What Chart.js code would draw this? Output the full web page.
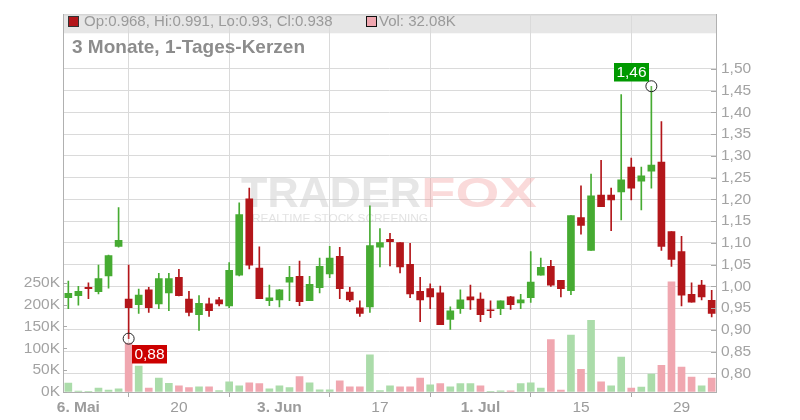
<!DOCTYPE html>
<html><head><meta charset="utf-8">
<script src="https://cdn.jsdelivr.net/npm/chart.js@4.4.1/dist/chart.umd.min.js"></script>
<style>html,body{margin:0;padding:0;background:#fff;}#wrap{width:800px;height:420px;position:relative;}</style>
</head><body><div id="wrap"><canvas id="c" width="800" height="420"></canvas></div>
<script>
const dates = [
 '2024-05-03','2024-05-06','2024-05-07','2024-05-08','2024-05-09','2024-05-10','2024-05-13','2024-05-14','2024-05-15','2024-05-16','2024-05-17',
 '2024-05-20','2024-05-21','2024-05-22','2024-05-23','2024-05-24','2024-05-27','2024-05-28','2024-05-29','2024-05-30','2024-05-31',
 '2024-06-03','2024-06-04','2024-06-05','2024-06-06','2024-06-07','2024-06-10','2024-06-11','2024-06-12','2024-06-13','2024-06-14',
 '2024-06-17','2024-06-18','2024-06-19','2024-06-20','2024-06-21','2024-06-24','2024-06-25','2024-06-26','2024-06-27','2024-06-28',
 '2024-07-01','2024-07-02','2024-07-03','2024-07-04','2024-07-05','2024-07-08','2024-07-09','2024-07-10','2024-07-11','2024-07-12',
 '2024-07-15','2024-07-16','2024-07-17','2024-07-18','2024-07-19','2024-07-22','2024-07-23','2024-07-24','2024-07-25','2024-07-26',
 '2024-07-29','2024-07-30','2024-07-31','2024-08-01'];
const open  = [0.974,0.979,0.998,0.988,1.024,1.092,0.971,0.958,0.992,0.960,0.985,
 1.021,0.971,0.935,0.960,0.969,0.955,1.026,1.201,1.042,0.967,
 0.969,1.010,1.023,0.967,0.997,1.029,1.069,0.987,0.951,0.953,
 1.090,1.108,1.101,1.051,0.989,0.995,0.985,0.924,0.949,0.976,
 0.971,0.946,0.949,0.976,0.962,0.974,1.026,1.046,1.014,0.990,
 1.158,1.083,1.210,1.210,1.217,1.274,1.242,1.265,1.286,1.126,
 1.080,0.982,1.003,0.968];
const high  = [1.012,1.000,1.008,1.049,1.072,1.181,1.049,0.994,0.998,1.030,1.030,
 1.039,0.989,0.979,0.973,0.975,1.055,1.192,1.226,1.091,1.003,
 0.993,1.046,1.058,1.023,1.065,1.092,1.090,0.998,0.967,1.185,
 1.133,1.122,1.101,1.099,1.021,1.006,1.001,0.953,0.992,1.003,
 0.985,0.967,0.967,0.977,0.982,1.080,1.065,1.060,1.014,1.163,
 1.231,1.258,1.290,1.226,1.441,1.295,1.274,1.460,1.379,1.126,
 1.115,1.008,1.014,0.991];
const low   = [0.949,0.957,0.972,0.983,0.996,1.090,0.880,0.938,0.940,0.949,0.944,
 0.978,0.932,0.899,0.931,0.955,0.951,1.024,1.040,0.972,0.956,
 0.953,0.967,0.956,0.967,0.985,1.020,0.972,0.965,0.931,0.940,
 1.045,1.047,1.031,0.974,0.919,0.949,0.912,0.901,0.938,0.947,
 0.919,0.928,0.935,0.947,0.949,0.963,1.026,1.000,0.976,0.981,
 1.120,1.083,1.183,1.128,1.153,1.199,1.176,1.226,1.083,1.046,
 0.955,0.964,0.969,0.930];
const close = [0.984,0.989,0.995,1.018,1.071,1.106,0.951,0.980,0.951,1.018,1.018,
 0.979,0.940,0.961,0.944,0.960,1.037,1.165,1.049,0.972,0.974,
 0.992,1.021,0.965,1.005,1.046,1.065,0.995,0.969,0.938,1.094,
 1.101,1.103,1.045,0.983,0.969,0.976,0.912,0.944,0.969,0.969,
 0.935,0.944,0.967,0.958,0.969,1.010,1.044,1.003,0.995,1.163,
 1.140,1.208,1.183,1.199,1.245,1.226,1.254,1.279,1.092,1.062,
 0.980,0.964,0.976,0.938];
const volume = [20500,2000,500,9000,4500,7000,112000,59000,9000,32000,20000,
 14000,10000,12000,12000,3000,23000,14000,21000,19000,7500,
 14000,10000,35000,21000,5000,5000,25700,12000,12000,85000,
 3000,14000,12000,12000,32000,16500,19000,12000,19000,19000,
 14000,500,2500,2500,19000,21000,9000,120000,4500,130000,
 52000,164000,23000,14000,80000,9000,11000,41000,61000,252000,
 57000,34000,14000,32080];
const priceTicks  = [0.80,0.85,0.90,0.95,1.00,1.05,1.10,1.15,1.20,1.25,1.30,1.35,1.40,1.45,1.50];
const volumeTicks = [0,50000,100000,150000,200000,250000];
const tickDates  = ['2024-05-06','2024-05-20','2024-06-03','2024-06-17','2024-07-01','2024-07-15','2024-07-29'];
const tickLabels = ['6. Mai','20','3. Jun','17','1. Jul','15','29'];
const boldTicks  = ['6. Mai','3. Jun','1. Jul'];
const markerDates  = ['2024-05-13','2024-07-24'];
const markerFields = ['low','high'];
const markerTexts  = ['0,88','1,46'];
const titleText = '3 Monate, 1-Tages-Kerzen';

const FONT = "'Liberation Sans', Arial, sans-serif";
const UP = '#46ab32', DOWN = '#b3161a', VUP = '#abdcaa', VDOWN = '#f0a7b0';
const series = {open, high, low, close};
const idx = dates.map((d,i)=>i);
const bodyColors = idx.map(i => close[i] >= open[i] ? UP : DOWN);
const volColors = idx.map(i => (i === 0 || close[i] >= close[i-1]) ? VUP : VDOWN);
const tickIdx = tickDates.map(d => dates.indexOf(d));
const markerPts = markerDates.map((d,k) => { const i = dates.indexOf(d); return {x:i, y:series[markerFields[k]][i]}; });

const last = dates.length - 1;
const headerText = 'Op:' + open[last] + ', Hi:' + high[last] + ', Lo:' + low[last] + ', Cl:' + close[last];
const volText = 'Vol: ' + (volume[last]/1000).toFixed(2) + 'K';

const decor = {
  id:'decor',
  beforeDraw(chart){
    const {ctx, chartArea:a} = chart;
    ctx.save();
    ctx.fillStyle = '#e6e6e6';
    ctx.fillRect(a.left, a.top, a.right - a.left, 19);
    ctx.strokeStyle = '#cccccc'; ctx.lineWidth = 1;
    ctx.beginPath(); ctx.moveTo(a.left, a.top + 0.5); ctx.lineTo(a.right, a.top + 0.5); ctx.stroke();
    ctx.restore();
  },
  beforeDatasetsDraw(chart){
    const {ctx, chartArea:a} = chart;
    ctx.save();
    // watermark
    ctx.font = 'bold 43px ' + FONT;
    ctx.textBaseline = 'alphabetic';
    ctx.fillStyle = 'rgba(200,200,200,0.45)';
    const w1 = ctx.measureText('TRADER').width;
    ctx.save(); ctx.translate(241, 207); ctx.scale(180 / w1, 1); ctx.fillText('TRADER', 0, 0); ctx.restore();
    ctx.fillStyle = 'rgba(240,150,150,0.35)';
    const w2 = ctx.measureText('FOX').width;
    ctx.save(); ctx.translate(421, 207); ctx.scale(116 / w2, 1); ctx.fillText('FOX', 0, 0); ctx.restore();
    ctx.font = '10px ' + FONT;
    ctx.fillStyle = 'rgba(200,200,200,0.5)';
    const w3 = ctx.measureText('REALTIME STOCK SCREENING').width;
    ctx.save(); ctx.translate(252, 222); ctx.scale(176 / w3, 1); ctx.fillText('REALTIME STOCK SCREENING', 0, 0); ctx.restore();
    // header
    ctx.textBaseline = 'middle';
    ctx.font = '15px ' + FONT;
    ctx.fillStyle = '#9a9a9a';
    ctx.fillText(headerText, 84, 21.5);
    ctx.fillText(volText, 379, 21.5);
    ctx.fillStyle = DOWN; ctx.fillRect(68.5, 16.5, 10, 10);
    ctx.strokeStyle = '#333'; ctx.lineWidth = 1; ctx.strokeRect(68.5, 16.5, 10, 10);
    ctx.fillStyle = VDOWN; ctx.fillRect(366.5, 16.5, 10, 10);
    ctx.strokeStyle = '#111'; ctx.strokeRect(366.5, 16.5, 10, 10);
    ctx.font = 'bold 19px ' + FONT;
    ctx.fillStyle = '#8c8c8c';
    ctx.fillText(titleText, 72, 48);
    ctx.restore();
  },
  afterDatasetsDraw(chart){
    const {ctx} = chart;
    const xs = chart.scales.x, ys = chart.scales.y;
    ctx.save();
    ctx.font = '15.5px ' + FONT;
    ctx.textBaseline = 'middle'; ctx.textAlign = 'center';
    markerPts.forEach((p,k) => {
      const px = xs.getPixelForValue(p.x), py = ys.getPixelForValue(p.y);
      const w = 35, h = 18.5;
      let bx, by, col;
      if (markerFields[k] === 'low') { bx = px + 3; by = py + 6; col = '#cc0000'; }
      else { bx = px - 37.5; by = py - 23; col = '#009900'; }
      ctx.fillStyle = col; ctx.fillRect(Math.round(bx), Math.round(by), w, h);
      ctx.fillStyle = '#ffffff';
      ctx.fillText(markerTexts[k], Math.round(bx) + w/2, Math.round(by) + h/2 + 0.5);
    });
    ctx.restore();
  },
  afterDraw(chart){
    const {ctx, chartArea:a} = chart;
    const yR = chart.scales.y, yL = chart.scales.yVol;
    ctx.save();
    ctx.strokeStyle = '#aaaaaa'; ctx.lineWidth = 1;
    ctx.beginPath();
    priceTicks.forEach(v => { const py = Math.round(yR.getPixelForValue(v)) + 0.5; ctx.moveTo(a.right - 5, py); ctx.lineTo(a.right, py); });
    volumeTicks.forEach(v => { const py = Math.round(yL.getPixelForValue(v)) + 0.5; ctx.moveTo(a.left, py); ctx.lineTo(a.left + 4, py); });
    ctx.stroke();
    ctx.restore();
  }
};

const PMIN = 0.7574, PMAX = 1.6253, VMAX = 863700;

new Chart(document.getElementById('c'), {
  type: 'bar',
  data: {
    datasets: [
      { type:'scatter', data: markerPts, yAxisID:'y', pointRadius:5.5, pointBorderColor:'#222', pointBorderWidth:1,
        pointBackgroundColor:'rgba(255,255,255,0.15)', order:0 },
      { data: idx.map(i => ({x:i, y:[Math.min(open[i],close[i]), Math.max(open[i],close[i])]})), yAxisID:'y',
        backgroundColor: bodyColors, barThickness:7, grouped:false, minBarLength:1, order:1 },
      { data: idx.map(i => ({x:i, y:[low[i], high[i]]})), yAxisID:'y',
        backgroundColor: bodyColors, barThickness:1, grouped:false, order:2 },
      { data: idx.map(i => ({x:i, y:volume[i]})), yAxisID:'yVol',
        backgroundColor: volColors, barThickness:7, grouped:false, order:3 }
    ]
  },
  options: {
    responsive:false, animation:false,
    layout:{ padding:{ top:11, left:0, right:0, bottom:0 } },
    plugins:{ legend:{display:false}, tooltip:{enabled:false}, title:{display:false} },
    scales:{
      x:{ type:'linear', min:-0.53, max:64.43, offset:false,
        afterBuildTicks: s => { s.ticks = tickIdx.map(v => ({value:v})); },
        ticks:{ autoSkip:false, maxRotation:0, padding:1, color:'#9c9c9c',
          callback:(v) => { const k = tickIdx.indexOf(v); return k >= 0 ? tickLabels[k] : ''; },
          font:(c) => ({ family:FONT, size:15.5, weight: (c.tick && boldTicks.includes(c.tick.label)) ? 'bold' : 'normal' }) },
        grid:{ color:'#dadada', tickLength:5, tickColor:'#aaaaaa' },
        border:{ color:'#b0b0b0' },
        afterFit: s => { s.height = 28; } },
      y:{ type:'linear', position:'right', min:PMIN, max:PMAX,
        afterBuildTicks: s => { s.ticks = priceTicks.map(v => ({value:v})); },
        ticks:{ padding:5, color:'#a3a3a3', font:{family:FONT, size:15.5},
          callback: v => v.toFixed(2).replace('.', ',') },
        grid:{ color:'#dadada', drawTicks:false },
        border:{ color:'#b0b0b0' },
        afterFit: s => { s.width = 84; } },
      yVol:{ type:'linear', position:'left', min:0, max:VMAX,
        afterBuildTicks: s => { s.ticks = volumeTicks.map(v => ({value:v})); },
        ticks:{ padding:3, color:'#a3a3a3', font:{family:FONT, size:15.5},
          callback: v => (v/1000) + 'K' },
        grid:{ drawOnChartArea:false, drawTicks:false },
        border:{ color:'#b0b0b0' },
        afterFit: s => { s.width = 63; } }
    }
  },
  plugins:[decor]
});
</script></body></html>
